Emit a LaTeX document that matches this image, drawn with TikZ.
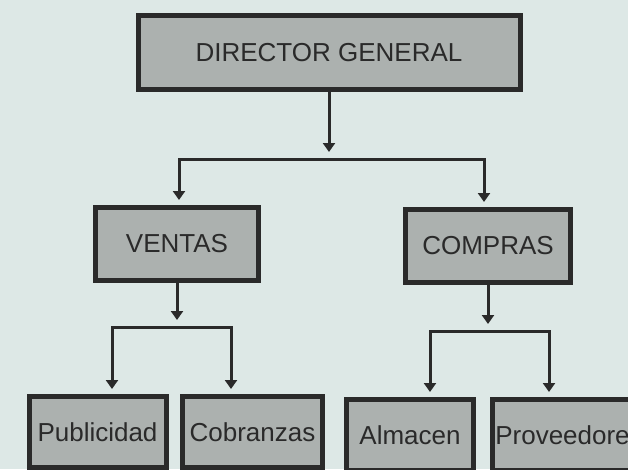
\documentclass[tikz,border=0pt]{standalone}
\usepackage{fontspec}
\setmainfont{Liberation Sans}
\usetikzlibrary{arrows.meta,positioning,calc}

\definecolor{paper}{RGB}{221,232,230}
\definecolor{boxfill}{RGB}{172,177,175}
\definecolor{ink}{RGB}{42,42,42}

\begin{document}
\begin{tikzpicture}
	% Styles
	[
	x=1pt, y=-1pt,
	box/.style={rectangle, inner sep=0pt, line width=5pt, draw=ink, fill=boxfill, text=ink, font=\fontsize{26}{30}\selectfont},
	top/.style={box, minimum width=382pt, minimum height=74pt},
	mid/.style={box, minimum height=73pt},
	sub/.style={box, minimum height=71pt},
	link/.style={line width=3pt, draw=ink},
	arr/.style={link, -{Triangle[width=12pt,length=9pt]}},
	fork/.style={link, {Triangle[width=12pt,length=9pt]}-{Triangle[width=12pt,length=9pt]}, shorten <=5pt, shorten >=5pt}
	]

	\clip (0,0) rectangle (628,469);
	\fill[paper] (0,0) rectangle (628,469);

	% Nodes
	\node at (329,52.5)	(dg)	[top] {DIRECTOR GENERAL};
	\node at (177,244)	(ventas)	[mid, minimum width=163pt] {VENTAS};
	\node at (488,246)	(compras)	[mid, minimum width=165pt] {COMPRAS};
	\node at (97.5,432)	(pub)	[sub, minimum width=137pt] {Publicidad};
	\node at (252.5,432)	(cob)	[sub, minimum width=140pt] {Cobranzas};
	\node at (410,435)	(alm)	[sub, minimum width=127pt] {Almacen};
	\node at (569,435)	(prov)	[sub, minimum width=153pt] {Proveedores};

	% Bars
	\coordinate (bar0l) at (179,159);
	\coordinate (bar0r) at (484,159);
	\coordinate (bar1l) at (112,327);
	\coordinate (bar1r) at (231,327);
	\coordinate (bar2l) at (430,331);
	\coordinate (bar2r) at (549,331);

	% Connections
	\draw[arr, shorten >=7pt] (dg) -- (dg |- bar0l);
	\draw[fork] (bar0l |- ventas.north) -- (bar0l) -- (bar0r) -- (bar0r |- compras.north);

	\draw[arr, shorten >=7pt] (ventas) -- (ventas |- bar1l);
	\draw[fork] (bar1l |- pub.north) -- (bar1l) -- (bar1r) -- (bar1r |- cob.north);

	\draw[arr, shorten >=7pt] (compras) -- (compras |- bar2l);
	\draw[fork] (bar2l |- alm.north) -- (bar2l) -- (bar2r) -- (bar2r |- prov.north);

\end{tikzpicture}
\end{document}
